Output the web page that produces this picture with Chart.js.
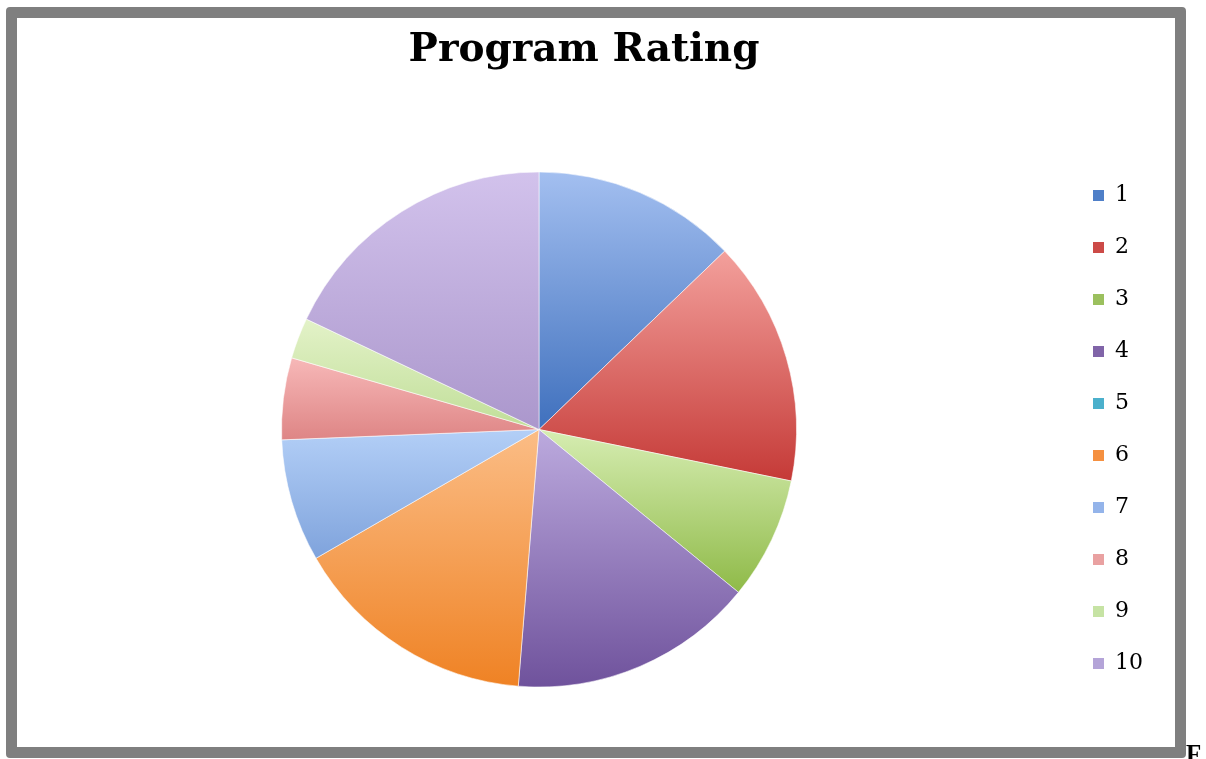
<!DOCTYPE html>
<html>
<head>
<meta charset="utf-8">
<title>Program Rating</title>
<script src="https://cdn.jsdelivr.net/npm/chart.js@4/dist/chart.umd.min.js"></script>
<style>
  html, body { margin: 0; padding: 0; background: #ffffff; width: 1206px; height: 759px; overflow: hidden; }
  #frame {
    position: absolute; left: 6px; top: 7px; width: 1180px; height: 751px;
    box-sizing: border-box; border: 11px solid #7f7f7f; border-radius: 4px; background: #ffffff;
  }
  #chart { position: absolute; left: 0; top: 0; }
  #tail {
    position: absolute; left: 1186px; top: 741px;
    font-family: "Liberation Serif", "Times New Roman", serif; font-weight: bold;
    font-size: 25px; line-height: 25px; color: #000;
  }
</style>
</head>
<body>
<div id="frame"></div>
<canvas id="chart" width="1206" height="759"></canvas>
<span id="tail">F</span>
<script>
// Ratings 1–10 and how many responses each received
const ratings = ['1', '2', '3', '4', '5', '6', '7', '8', '9', '10'];
const responses = [5, 6, 3, 6, 0, 6, 3, 2, 1, 7];

// Slice shading: light tone at the top of each slice, deeper tone at the bottom
const topColors = ['#a3bff0', '#f3a09c', '#d6edb2', '#bcaade', '#8fd3e4', '#fbbd86', '#b3cff7', '#f7b8b8', '#e3f2c8', '#d2c2ec'];
const bottomColors = ['#3f70bd', '#c53a37', '#8fba48', '#6f529c', '#3a9ab5', '#ef8224', '#7fa3dc', '#de8585', '#c0de98', '#ab97cc'];
const legendColors = ['#4f7fc8', '#cc4a47', '#9bc05e', '#8064a8', '#4bb0cc', '#f59040', '#94b4ea', '#e9a1a1', '#c6e3a4', '#b4a4d8'];

const PIE_RADIUS = 257.5;
const total = responses.reduce((s, v) => s + v, 0);

function sliceFill(ctx) {
  const chart = ctx.chart;
  const area = chart.chartArea;
  const i = ctx.dataIndex;
  if (!area || i === undefined) return legendColors[i || 0];
  const cy = (area.top + area.bottom) / 2;
  const r = PIE_RADIUS;
  let before = 0;
  for (let k = 0; k < i; k++) before += responses[k];
  const a0 = -Math.PI / 2 + before / total * Math.PI * 2;
  const a1 = a0 + responses[i] / total * Math.PI * 2;
  const ys = [cy, cy + r * Math.sin(a0), cy + r * Math.sin(a1)];
  // include the arc's lowest / highest points when the slice passes through them
  [Math.PI / 2, -Math.PI / 2, Math.PI * 1.5].forEach(a => {
    if (a > a0 && a < a1) ys.push(cy + r * Math.sin(a));
  });
  const y0 = Math.min(...ys), y1 = Math.max(...ys);
  if (y1 - y0 < 1) return legendColors[i];
  const g = chart.ctx.createLinearGradient(0, y0, 0, y1);
  g.addColorStop(0, topColors[i]);
  g.addColorStop(1, bottomColors[i]);
  return g;
}

new Chart(document.getElementById('chart'), {
  type: 'pie',
  data: {
    labels: ratings,
    datasets: [{
      data: responses,
      backgroundColor: sliceFill,
      borderColor: 'rgba(255,255,255,0.55)',
      borderWidth: 1,
      hoverOffset: 0,
      radius: PIE_RADIUS
    }]
  },
  options: {
    responsive: false,
    animation: false,
    devicePixelRatio: 1,
    layout: { padding: { left: 15, right: 53, top: 0, bottom: 51 } },
    plugins: {
      tooltip: { enabled: false },
      title: {
        display: true,
        text: 'Program Rating',
        color: '#000000',
        font: { family: 'DejaVu Serif', weight: 'bold', size: 39, lineHeight: 1.2 },
        padding: { top: 27, bottom: 77.2 }
      },
      legend: {
        position: 'right',
        fullSize: false,
        labels: {
          color: '#2a2a2a',
          font: { family: 'DejaVu Serif', size: 22 },
          boxWidth: 11,
          boxHeight: 11,
          padding: 30,
          generateLabels: (chart) => ratings.map((label, i) => ({
            text: label,
            fillStyle: legendColors[i],
            strokeStyle: legendColors[i],
            lineWidth: 0,
            hidden: false,
            index: i
          }))
        }
      }
    }
  }
});
</script>
</body>
</html>
